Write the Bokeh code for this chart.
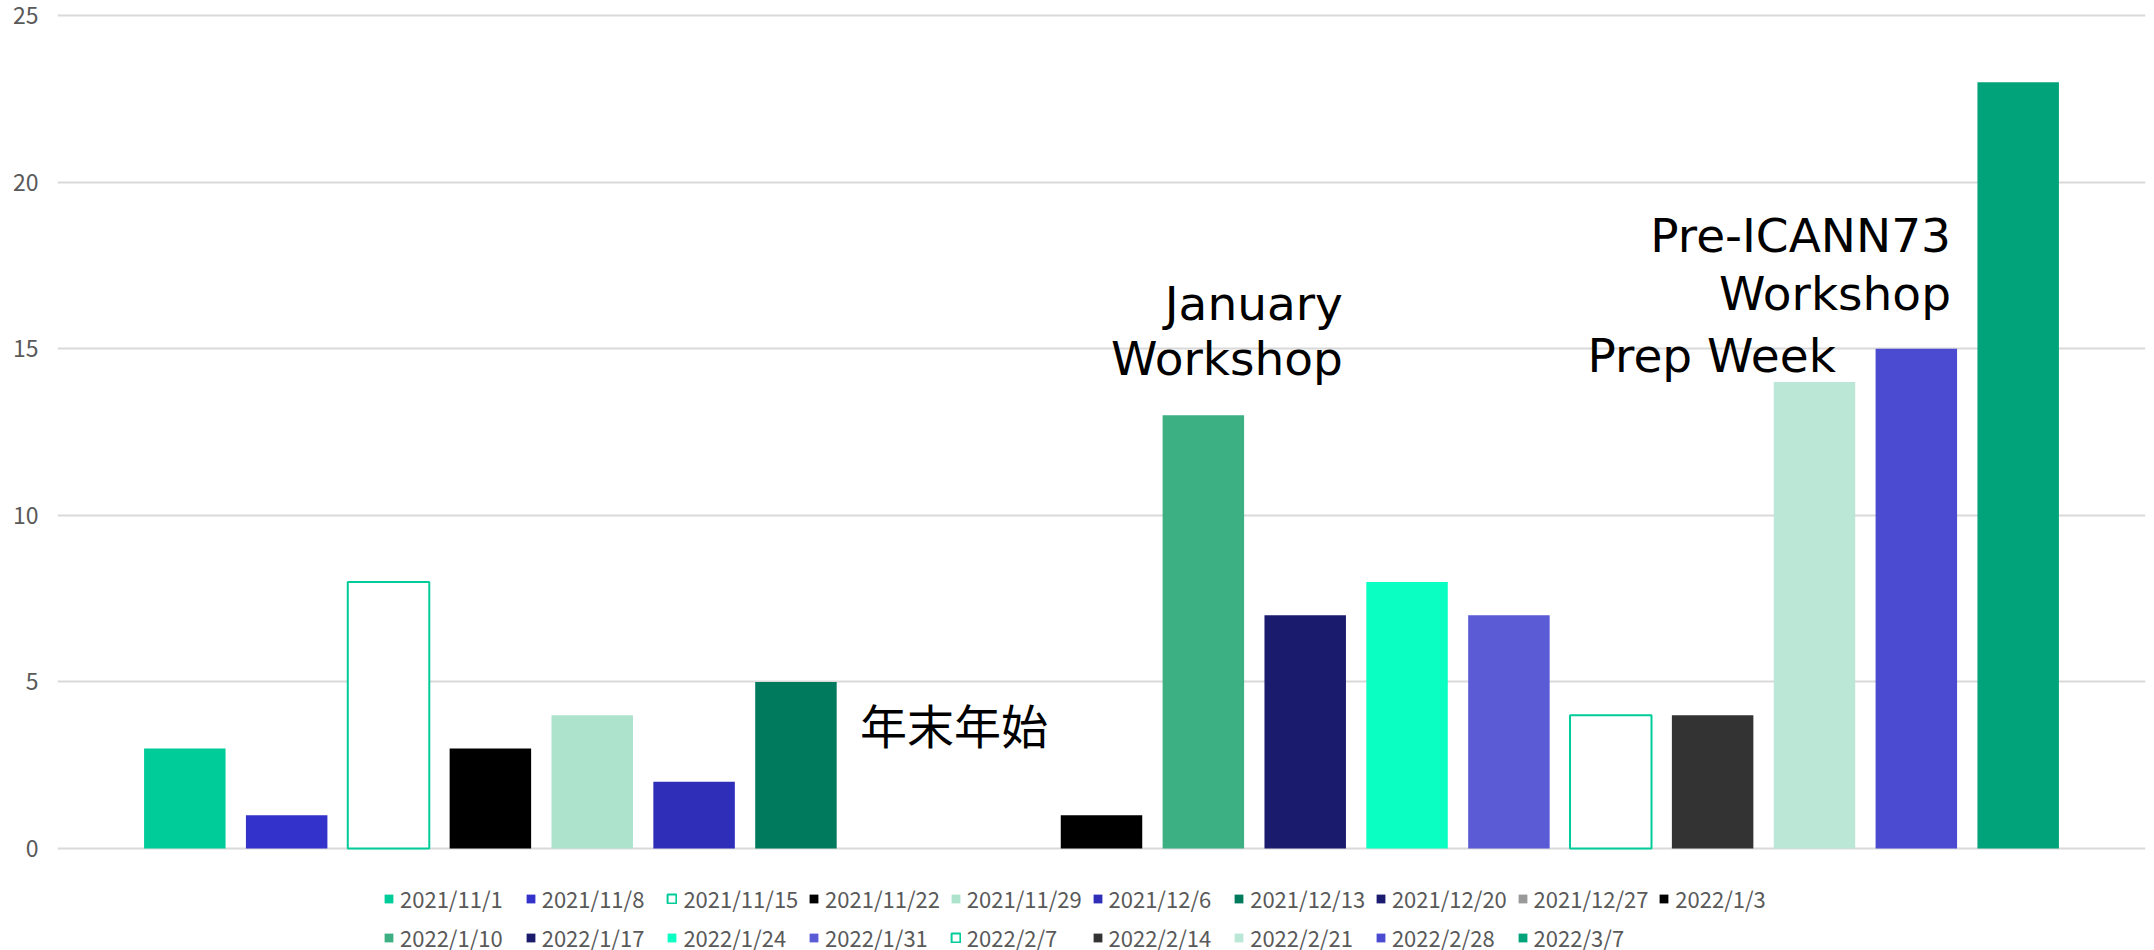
from bokeh.plotting import figure
from bokeh.models import (ColumnDataSource, Range1d, FixedTicker, Legend,
                          LegendItem, Label)
from bokeh.core.properties import value
from bokeh.embed import file_html
from bokeh.resources import INLINE

# Weekly counts
dates = ["2021/11/1", "2021/11/8", "2021/11/15", "2021/11/22", "2021/11/29",
         "2021/12/6", "2021/12/13", "2021/12/20", "2021/12/27", "2022/1/3",
         "2022/1/10", "2022/1/17", "2022/1/24", "2022/1/31", "2022/2/7",
         "2022/2/14", "2022/2/21", "2022/2/28", "2022/3/7"]
counts = [3, 1, 8, 3, 4, 2, 5, 0, 0, 1, 13, 7, 8, 7, 4, 4, 14, 15, 23]
y_ticks = [0, 5, 10, 15, 20, 25]

# Per-week styling
fill_colors = ["#00cc99", "#3333cc", "#ffffff", "#000000", "#ade3cc",
               "#2e2eb8", "#007a5c", "#1b1b70", "#999999", "#000000",
               "#3db083", "#1b1b6e", "#0affc2", "#5b5bd6", "#ffffff",
               "#333333", "#bbe8d6", "#4b4bd1", "#00a37a"]
hollow = {"2021/11/15", "2022/2/7"}
OUTLINE = "#00cc99"

line_colors = [OUTLINE if d in hollow else c for d, c in zip(dates, fill_colors)]
line_alphas = [1.0 if d in hollow else 0.0 for d in dates]

source = ColumnDataSource(dict(
    x=list(range(len(dates))), top=counts, fill=fill_colors,
    line=line_colors, lalpha=line_alphas,
))

TEXT_GREY = "#595959"
UI_FONT = "Noto Sans CJK JP"

# The frame spans the whole canvas height so the legend grid can sit
# inside it, under the zero line.
PX_PER_UNIT = 833 / 25
y_lo = -102 / PX_PER_UNIT
y_hi = 25 + 15 / PX_PER_UNIT

p = figure(width=2154, height=950, output_backend="svg", toolbar_location=None,
           x_range=Range1d(-1.25, 19.25), y_range=Range1d(y_lo, y_hi),
           x_axis_type=None,
           min_border_left=57, min_border_right=9,
           min_border_top=0, min_border_bottom=0)
p.outline_line_color = None
p.background_fill_color = "white"
p.border_fill_color = "white"

bars = p.vbar(x="x", top="top", bottom=0, width=0.8, source=source,
              fill_color="fill", line_color="line", line_alpha="lalpha",
              line_width=2)

yaxis = p.yaxis[0]
yaxis.ticker = FixedTicker(ticks=y_ticks)
yaxis.axis_line_color = None
yaxis.major_tick_line_color = None
yaxis.minor_tick_line_color = None
yaxis.major_label_standoff = 13
yaxis.major_label_text_font = UI_FONT
yaxis.major_label_text_font_size = "23px"
yaxis.major_label_text_color = TEXT_GREY

p.ygrid.grid_line_color = "#d9d9d9"
p.ygrid.grid_line_width = 2

# Legend: a fixed grid of 10 columns below the zero line
LEG_COLS = 10
LEG_X0, LEG_DX = 326, 141.7
LEG_Y0, LEG_DY = 36, 39
for i, d in enumerate(dates):
    row, col = divmod(i, LEG_COLS)
    item = LegendItem(label=value(d), renderers=[bars], index=i)
    lg = Legend(items=[item],
                location=(LEG_X0 + col * LEG_DX, LEG_Y0 - row * LEG_DY),
                orientation="horizontal", glyph_width=11, glyph_height=11,
                label_standoff=6, label_height=11, padding=0, margin=0,
                spacing=0, border_line_color=None, background_fill_alpha=0,
                label_text_font=UI_FONT, label_text_font_size="22px",
                label_text_color=TEXT_GREY)
    p.add_layout(lg, "center")

# Annotations
note_style = dict(text_font="DejaVu Sans", text_font_size="47px",
                  text_color="black", text_baseline="alphabetic",
                  text_align="right")
p.add_layout(Label(x=11.37, y=16.36, text="January", **note_style))
p.add_layout(Label(x=11.37, y=14.71, text="Workshop", **note_style))
p.add_layout(Label(x=17.34, y=18.40, text="Pre-ICANN73", **note_style))
p.add_layout(Label(x=17.34, y=16.66, text="Workshop", **note_style))
p.add_layout(Label(x=16.21, y=14.80, text="Prep Week", **note_style))
p.add_layout(Label(x=6.63, y=3.75, text="年末年始", text_font=UI_FONT,
                   text_font_size="47px", text_color="black",
                   text_baseline="middle", text_align="left"))

open("out.html", "w").write(file_html(p, INLINE))
